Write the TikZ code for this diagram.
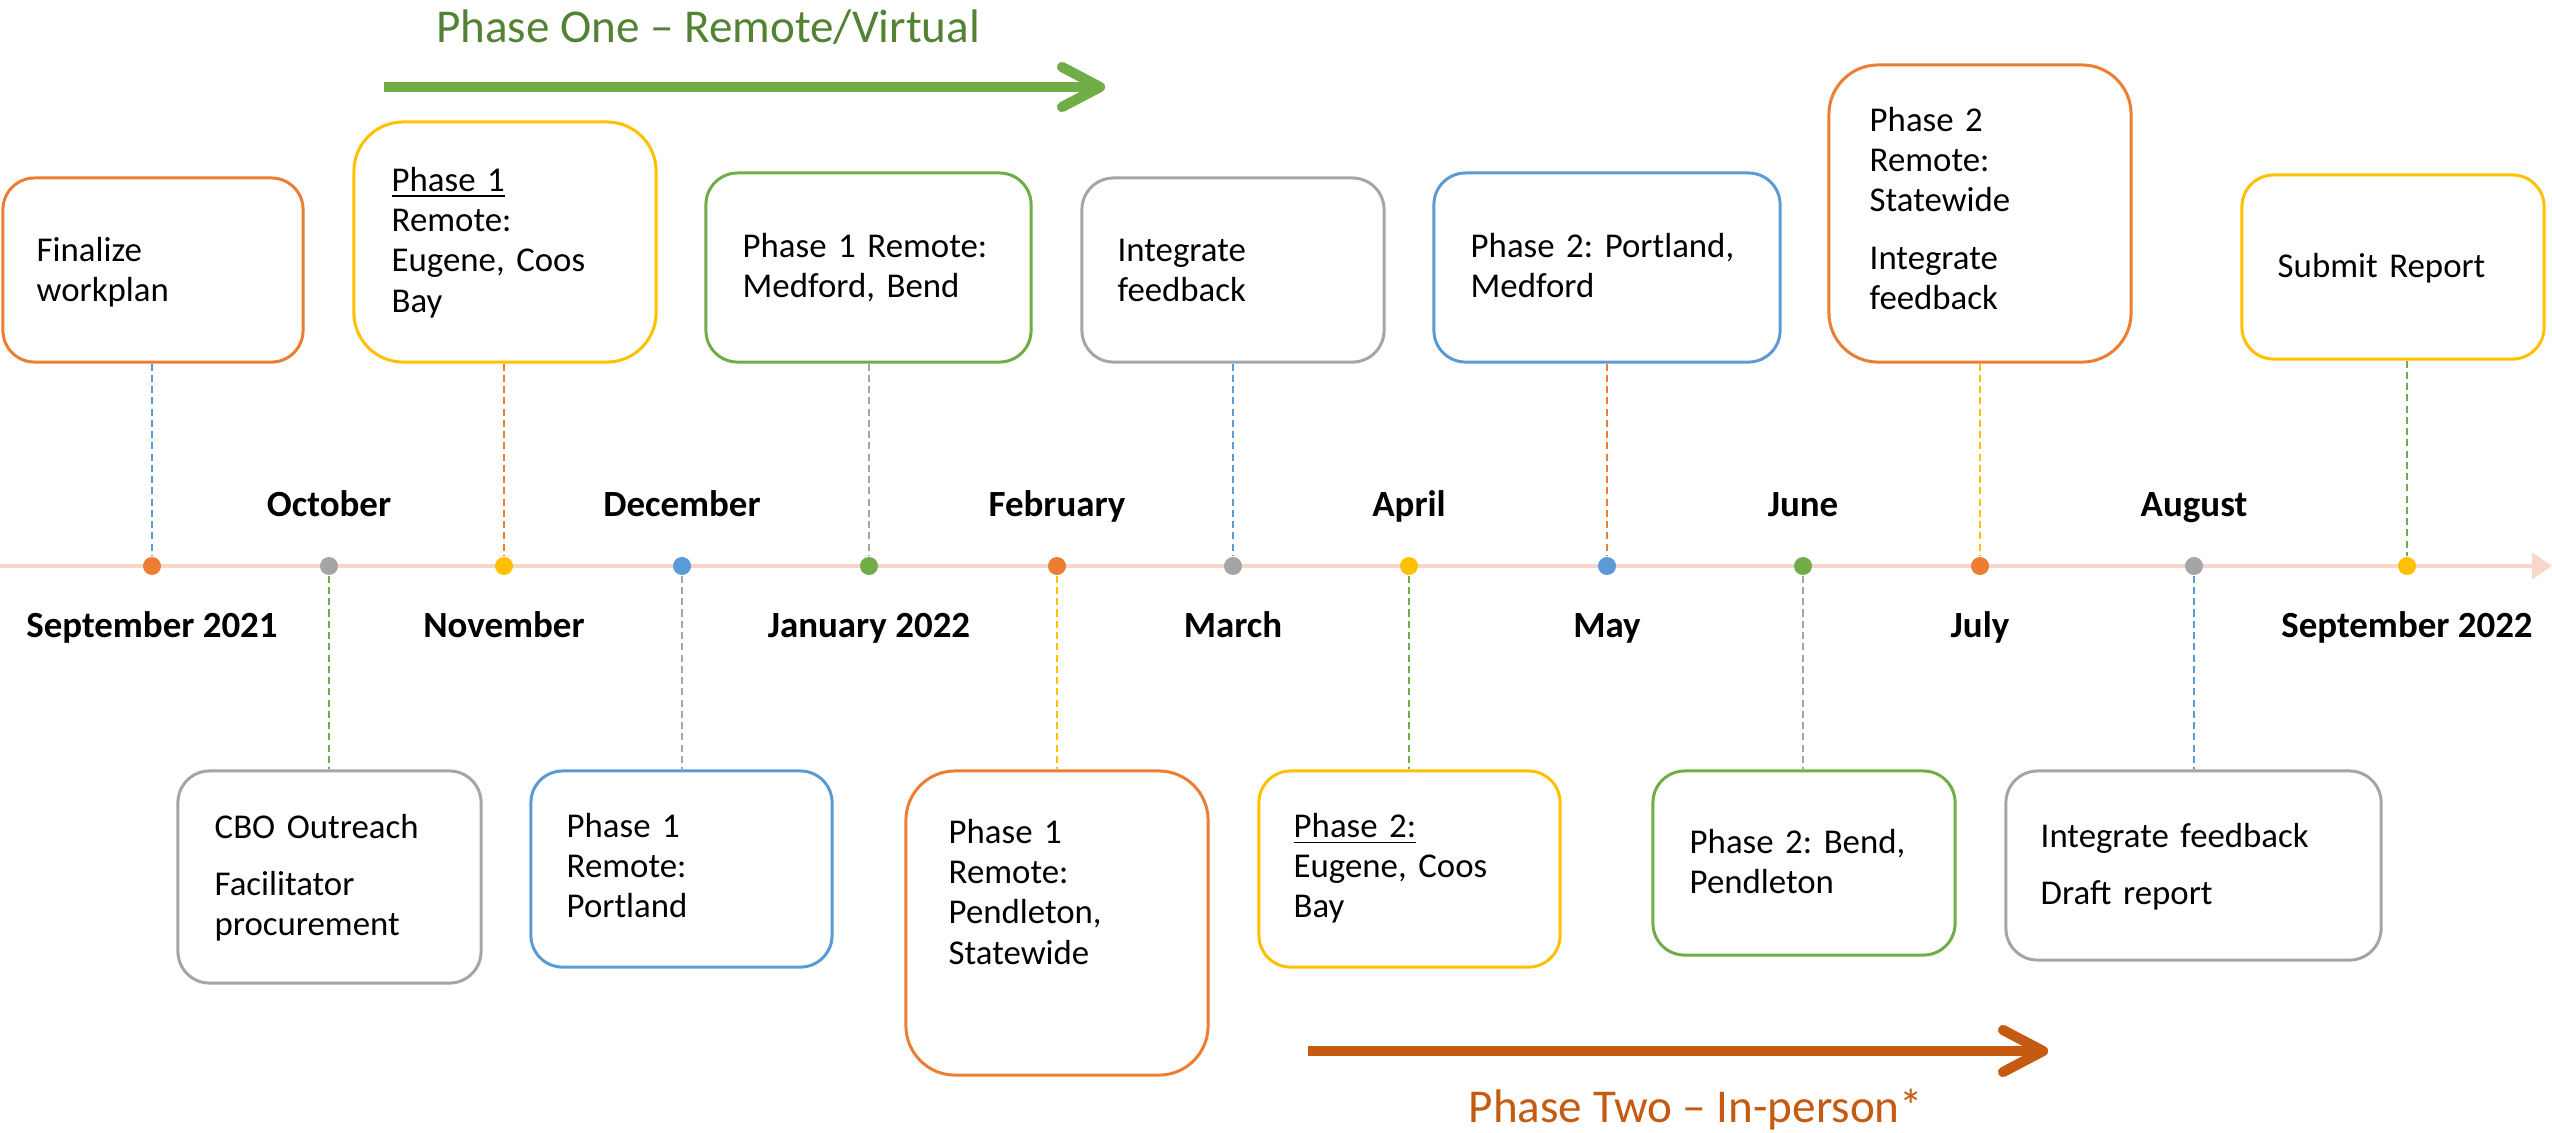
\documentclass[tikz,border=0pt]{standalone}
\usepackage{fontspec}
\setmainfont{Carlito}
\usetikzlibrary{arrows.meta}
\frenchspacing

\definecolor{orng}{HTML}{ED7D31}
\definecolor{gry}{HTML}{A5A5A5}
\definecolor{ylw}{HTML}{FFC000}
\definecolor{blu}{HTML}{5B9BD5}
\definecolor{grn}{HTML}{70AD47}
\definecolor{grndark}{HTML}{548235}
\definecolor{rust}{HTML}{C55A11}
\definecolor{tlpink}{HTML}{F9D6CA}

\begin{document}
\begin{tikzpicture}[x=0.01cm, y=-0.01cm,
	tlbox/.style={draw=#1, line width=0.85pt, rounded corners=9pt, fill=white, inner sep=0pt},
	tallbox/.style={tlbox=#1, rounded corners=14pt},
	dot/.style={circle, fill=#1, inner sep=0pt, minimum size=0.18cm},
	link/.style={draw=#1, line width=0.45pt, dash pattern=on 2pt off 1.2pt},
	boxtext/.style={anchor=base west, inner sep=0pt, text width=4cm, align=left, font=\fontsize{9.9pt}{11.5pt}\selectfont},
	month/.style={anchor=base, inner sep=0pt, font=\fontsize{10.5pt}{12pt}\selectfont\bfseries},
	phase/.style={anchor=base, inner sep=0pt, text=#1, font=\fontsize{13.4pt}{15pt}\selectfont},
	shaft/.style={draw=#1, line width=2.9pt},
	barb/.style={draw=#1, line width=2.9pt, line cap=round, line join=round}]
	\useasboundingbox (0,0) rectangle (2552,1132);
	
	% 1. time axis and month dots
	\coordinate (tl0) at (0,566);
	\coordinate (tl1) at (2552,566);
	\draw[tlpink, line width=1.2pt, -{Triangle[length=0.2cm,width=0.26cm]}] (tl0) -- (tl1);
	
	\node[dot=orng] (d1) at (152,566) {};
	\node[dot=gry] (d2) at (329,566) {};
	\node[dot=ylw] (d3) at (504,566) {};
	\node[dot=blu] (d4) at (682,566) {};
	\node[dot=grn] (d5) at (869,566) {};
	\node[dot=orng] (d6) at (1057,566) {};
	\node[dot=gry] (d7) at (1233,566) {};
	\node[dot=ylw] (d8) at (1409,566) {};
	\node[dot=blu] (d9) at (1607,566) {};
	\node[dot=grn] (d10) at (1803,566) {};
	\node[dot=orng] (d11) at (1980,566) {};
	\node[dot=gry] (d12) at (2194,566) {};
	\node[dot=ylw] (d13) at (2407,566) {};
	
	% 2. month names (above and below the axis)
	\node[month] (m1) at (152,637) {September 2021};
	\node[month] (m2) at (329,516) {October};
	\node[month] (m3) at (504,637) {November};
	\node[month] (m4) at (682,516) {December};
	\node[month] (m5) at (869,637) {January 2022};
	\node[month] (m6) at (1057,516) {February};
	\node[month] (m7) at (1233,637) {March};
	\node[month] (m8) at (1409,516) {April};
	\node[month] (m9) at (1607,637) {May};
	\node[month] (m10) at (1803,516) {June};
	\node[month] (m11) at (1980,637) {July};
	\node[month] (m12) at (2194,516) {August};
	\node[month] (m13) at (2407,637) {September 2022};
	
	% 3. upper boxes
	\node[tlbox=orng, minimum width=3.00cm, minimum height=1.84cm] (b1) at (153,270) {};
	\node[tallbox=ylw, minimum width=3.02cm, minimum height=2.40cm] (b2) at (505,242) {};
	\node[tlbox=grn, minimum width=3.25cm, minimum height=1.89cm] (b3) at (868.5,267.5) {};
	\node[tlbox=gry, minimum width=3.02cm, minimum height=1.84cm] (b4) at (1233,270) {};
	\node[tlbox=blu, minimum width=3.46cm, minimum height=1.89cm] (b5) at (1607,267.5) {};
	\node[tallbox=orng, minimum width=3.02cm, minimum height=2.97cm] (b6) at (1980,213.5) {};
	\node[tlbox=ylw, minimum width=3.02cm, minimum height=1.84cm] (b7) at (2393,267) {};
	
	\node[boxtext] (t1) at (36,261) {Finalize\\workplan};
	\node[boxtext] (t2) at (391,191) {\underline{Phase 1}\\Remote:\\Eugene, Coos\\Bay};
	\node[boxtext] (t3) at (742,257) {Phase 1 Remote:\\Medford, Bend};
	\node[boxtext] (t4) at (1117,261) {Integrate\\feedback};
	\node[boxtext] (t5) at (1470,257) {Phase 2: Portland,\\Medford};
	\node[boxtext] (t6) at (1869,131) {Phase 2\\Remote:\\Statewide\\[4.8pt]Integrate\\feedback};
	\node[boxtext] (t7) at (2277,277) {Submit Report};
	
	% 4. lower boxes
	\node[tlbox=gry, minimum width=3.03cm, minimum height=2.12cm] (b8) at (329.5,877) {};
	\node[tlbox=blu, minimum width=3.01cm, minimum height=1.96cm] (b9) at (681.5,869) {};
	\node[tallbox=orng, minimum width=3.02cm, minimum height=3.04cm] (b10) at (1057,923) {};
	\node[tlbox=ylw, minimum width=3.01cm, minimum height=1.96cm] (b11) at (1409.5,869) {};
	\node[tlbox=grn, minimum width=3.02cm, minimum height=1.84cm] (b12) at (1804,863) {};
	\node[tlbox=gry, minimum width=3.75cm, minimum height=1.89cm] (b13) at (2193.5,865.5) {};
	
	\node[boxtext] (t8) at (214,838) {CBO Outreach\\[4.8pt]Facilitator\\procurement};
	\node[boxtext] (t9) at (566,837) {Phase 1\\Remote:\\Portland};
	\node[boxtext] (t10) at (948,843) {Phase 1\\Remote:\\Pendleton,\\Statewide};
	\node[boxtext] (t11) at (1293,837) {\underline{Phase 2:}\\Eugene, Coos\\Bay};
	\node[boxtext] (t12) at (1689,853) {Phase 2: Bend,\\Pendleton};
	\node[boxtext] (t13) at (2040,847) {Integrate feedback\\[4.8pt]Draft report};
	
	% 5. dashed leaders box -- dot
	\draw[link=blu] (b1.south -| d1) -- (d1.north);
	\draw[link=orng] (b2.south -| d3) -- (d3.north);
	\draw[link=gry] (b3.south -| d5) -- (d5.north);
	\draw[link=blu] (b4.south -| d7) -- (d7.north);
	\draw[link=orng] (b5.south -| d9) -- (d9.north);
	\draw[link=ylw] (b6.south -| d11) -- (d11.north);
	\draw[link=grn] (b7.south -| d13) -- (d13.north);
	\draw[link=grn] (d2.south) -- (d2 |- b8.north);
	\draw[link=gry] (d4.south) -- (d4 |- b9.north);
	\draw[link=ylw] (d6.south) -- (d6 |- b10.north);
	\draw[link=grn] (d8.south) -- (d8 |- b11.north);
	\draw[link=gry] (d10.south) -- (d10 |- b12.north);
	\draw[link=blu] (d12.south) -- (d12 |- b13.north);
	
	% 6. phase arrows and titles
	\node[phase=grndark] (p1) at (708,42) {Phase One – Remote/Virtual};
	\coordinate (p1s) at (384,87);
	\coordinate (p1e) at (1100,87);
	\draw[shaft=grn] (p1s) -- (p1e);
	\draw[barb=grn] (p1e) ++(-38,-20) -- (p1e) -- ++(-38,20);
	
	\coordinate (p2s) at (1308,1051);
	\coordinate (p2e) at (2043,1051);
	\draw[shaft=rust] (p2s) -- (p2e);
	\draw[barb=rust] (p2e) ++(-40,-21) -- (p2e) -- ++(-40,21);
	\node[phase=rust] (p2) at (1696,1122) {Phase Two – In-person*};
	
\end{tikzpicture}
\end{document}
